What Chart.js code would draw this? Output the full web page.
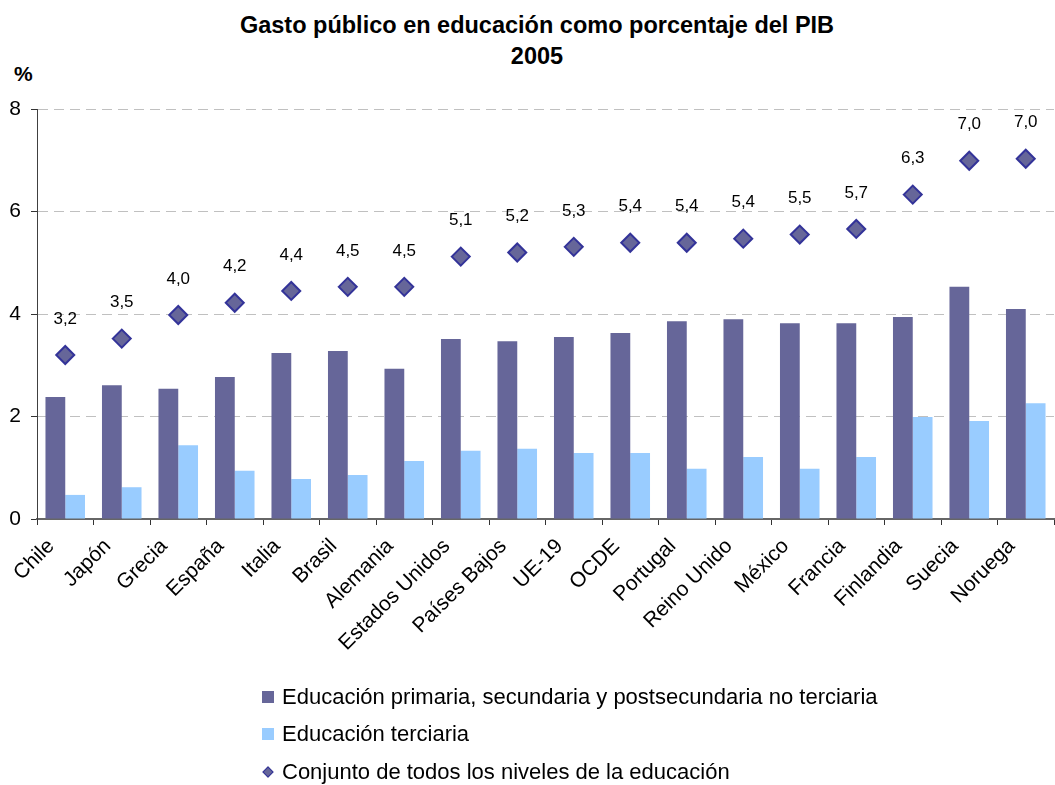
<!DOCTYPE html>
<html lang="es">
<head>
<meta charset="utf-8">
<title>Gasto público en educación como porcentaje del PIB 2005</title>
<script src="https://cdn.jsdelivr.net/npm/chart.js@4"></script>
<style>
  html, body { margin: 0; padding: 0; background: #fff; overflow: hidden; }
  body { width: 1055px; height: 785px; position: relative; font-family: Arial, "Liberation Sans", sans-serif; }
  #wrap { position: absolute; left: 0; top: 0; width: 1065px; height: 785px; }
  .title { position: absolute; left: 0; width: 1074px; text-align: center; font-weight: bold; font-size: 23.5px; color: #000; }
  .pct { position: absolute; left: 14px; top: 62px; font-weight: bold; font-size: 21px; }
  #legend { position: absolute; left: 262px; top: 0; font-size: 22px; color: #000; }
  .item { position: absolute; left: 0; white-space: nowrap; display: flex; align-items: center; height: 24px; }
  .swatch { width: 12px; height: 12px; margin-right: 8px; }
  .diamond { width: 8px; height: 8px; margin: 0 10px 0 2px; transform: rotate(45deg); box-sizing: border-box; }
</style>
</head>
<body>
<div class="title" style="top:12px">Gasto público en educación como porcentaje del PIB</div>
<div class="title" style="top:43px">2005</div>
<div class="pct">%</div>
<div id="wrap"><canvas id="chart" width="1065" height="785"></canvas></div>
<div id="legend"></div>
<script>
const countries = ["Chile", "Japón", "Grecia", "España", "Italia", "Brasil", "Alemania", "Estados Unidos",
  "Países Bajos", "UE-19", "OCDE", "Portugal", "Reino Unido", "México", "Francia", "Finlandia", "Suecia", "Noruega"]

const primarySecondary = [2.38, 2.61, 2.54, 2.77, 3.24, 3.28, 2.93, 3.51, 3.47, 3.55, 3.63, 3.86, 3.90, 3.82, 3.82, 3.94, 4.53, 4.10]
const tertiary = [0.47, 0.62, 1.44, 0.94, 0.78, 0.86, 1.13, 1.33, 1.37, 1.29, 1.29, 0.98, 1.21, 0.98, 1.21, 1.99, 1.91, 2.26]
const allLevels = [3.2, 3.5, 4.0, 4.2, 4.4, 4.5, 4.5, 5.1, 5.2, 5.3, 5.4, 5.4, 5.4, 5.5, 5.7, 6.3, 7.0, 7.0]
// positions of the diamonds (slightly off the rounded labels)
const allLevelsExact = [3.20, 3.52, 3.98, 4.22, 4.45, 4.53, 4.53, 5.12, 5.20, 5.31, 5.39, 5.39, 5.47, 5.55, 5.66, 6.33, 6.99, 7.03]

const yTicks = [0, 2, 4, 6, 8]

const seriesNames = [
  "Educación primaria, secundaria y postsecundaria no terciaria",
  "Educación terciaria",
  "Conjunto de todos los niveles de la educación"
]

const font = "Arial, 'Liberation Sans', sans-serif"

const valueLabels = {
  id: "valueLabels",
  afterDatasetsDraw(chart) {
    const meta = chart.getDatasetMeta(2)
    const ctx = chart.ctx
    ctx.save()
    ctx.font = `17px ${font}`
    ctx.fillStyle = "#000"
    ctx.textAlign = "center"
    ctx.textBaseline = "middle"
    meta.data.forEach((pt, i) => {
      ctx.fillText(allLevels[i].toFixed(1).replace(".", ","), pt.x, pt.y - 36)
    })
    ctx.restore()
  }
}

const chart = new Chart(document.getElementById("chart"), {
  type: "bar",
  data: {
    labels: countries,
    datasets: [
      {
        label: seriesNames[0],
        data: primarySecondary,
        backgroundColor: "#666699",
        categoryPercentage: 0.7,
        barPercentage: 1.0,
        order: 2
      },
      {
        label: seriesNames[1],
        data: tertiary,
        backgroundColor: "#99ccff",
        categoryPercentage: 0.7,
        barPercentage: 1.0,
        order: 2
      },
      {
        type: "line",
        label: seriesNames[2],
        data: allLevelsExact,
        showLine: false,
        pointStyle: "rectRot",
        pointRadius: 9,
        pointBorderWidth: 2,
        pointBackgroundColor: "#666699",
        pointBorderColor: "#333399",
        order: 1
      }
    ]
  },
  options: {
    responsive: false,
    animation: false,
    events: [],
    layout: { padding: { top: 109, left: 0, right: 0, bottom: 0 } },
    plugins: {
      legend: { display: false },
      title: { display: false },
      tooltip: { enabled: false }
    },
    scales: {
      x: {
        grid: { display: true, drawOnChartArea: false, drawTicks: true, tickLength: 6, tickColor: "#333", offset: true },
        border: { color: "#666", width: 2 },
        ticks: { autoSkip: false, minRotation: 45, maxRotation: 45, color: "#000", font: { family: font, size: 21 }, padding: 9, labelOffset: -14 },
        afterFit(scale) { scale.height = 266 }
      },
      y: {
        min: 0,
        max: 8,
        afterBuildTicks(scale) { scale.ticks = yTicks.map((v) => ({ value: v })) },
        grid: {
          color: (c) => (c.tick && c.tick.value === 0 ? "rgba(0,0,0,0)" : "#c0c0c0"),
          tickColor: "#333",
          tickLength: 6,
          lineWidth: 1
        },
        border: { color: "#404040", width: 1, dash: [10, 6] },
        ticks: { color: "#000", font: { family: font, size: 21 }, padding: 10 },
        afterFit(scale) { scale.width = 37 }
      }
    }
  },
  plugins: [valueLabels]
})

// legend built from the datasets
const legend = document.getElementById("legend")
const rowTops = [685, 722, 760]
chart.data.datasets.forEach((ds, i) => {
  const row = document.createElement("div")
  row.className = "item"
  row.style.top = rowTops[i] + "px"
  const mark = document.createElement("span")
  if (ds.type === "line") {
    mark.className = "diamond"
    mark.style.background = ds.pointBackgroundColor
    mark.style.border = "1.5px solid " + ds.pointBorderColor
  } else {
    mark.className = "swatch"
    mark.style.background = ds.backgroundColor
  }
  row.appendChild(mark)
  const txt = document.createElement("span")
  txt.textContent = ds.label
  row.appendChild(txt)
  legend.appendChild(row)
})
</script>
</body>
</html>
